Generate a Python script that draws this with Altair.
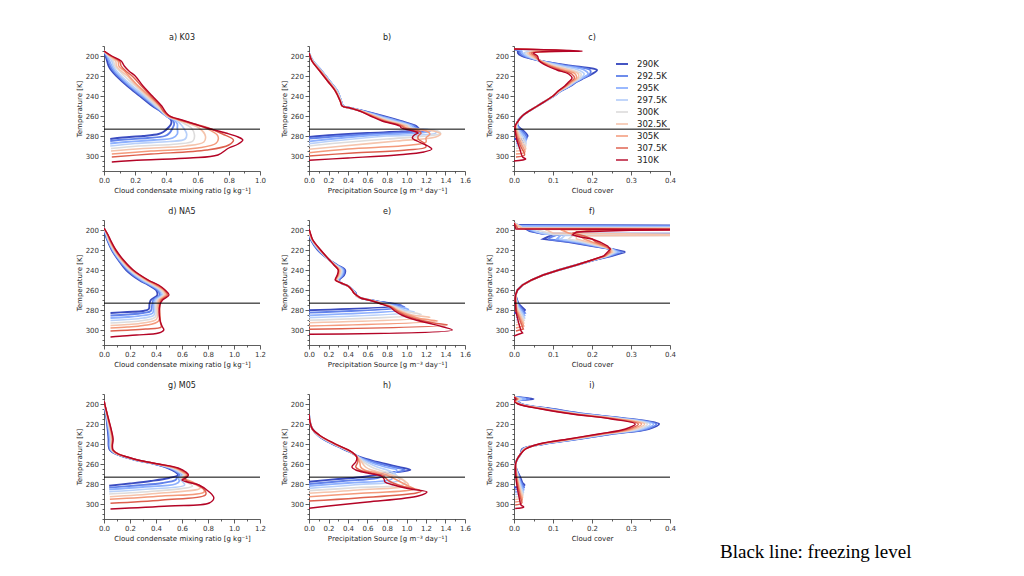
import altair as alt
import pandas as pd

SERIES = ["290K", "292.5K", "295K", "297.5K", "300K", "302.5K", "305K", "307.5K", "310K"]
COLORS = ["#3b4cc0", "#6282ea", "#8db0fe", "#b8d0f9", "#dddcdc", "#f5c4ac", "#f49a7b", "#de604d", "#b40426"]
WIDTHS = [1.9, 1.4, 1.4, 1.4, 1.4, 1.4, 1.4, 1.4, 1.9]
FREEZE = 273.15
T_DOMAIN = [190, 315]
Y_TICKS = list(range(190, 316, 5))
NOTE = "Black line: freezing level"

TITLES = ["a) K03", "b)", "c)", "d) NA5", "e)", "f)", "g) M05", "h)", "i)"]
XTITLE_Q = "Cloud condensate mixing ratio [g kg\u207b\u00b9]"
XTITLE_P = "Precipitation Source [g m\u207b\u00b3 day\u207b\u00b9]"
XTITLE_C = "Cloud cover"

# ---------------- a) K03 : condensate ----------------
A_T = [195, 200, 205, 210, 215, 220, 230, 240, 250, 255, 260]
A_X = [
    [0.0, 0.01, 0.02, 0.03, 0.05, 0.08, 0.15, 0.23, 0.31, 0.36, 0.40],
    [0.0, 0.015, 0.03, 0.04, 0.06, 0.09, 0.16, 0.24, 0.32, 0.36, 0.40],
    [0.0, 0.02, 0.035, 0.05, 0.07, 0.10, 0.17, 0.25, 0.33, 0.37, 0.40],
    [0.0, 0.025, 0.05, 0.06, 0.08, 0.11, 0.18, 0.26, 0.33, 0.37, 0.40],
    [0.0, 0.03, 0.06, 0.07, 0.10, 0.13, 0.20, 0.27, 0.34, 0.37, 0.41],
    [0.0, 0.035, 0.075, 0.08, 0.11, 0.15, 0.21, 0.28, 0.35, 0.38, 0.41],
    [0.0, 0.04, 0.09, 0.095, 0.13, 0.16, 0.22, 0.29, 0.36, 0.38, 0.41],
    [0.0, 0.045, 0.10, 0.11, 0.14, 0.18, 0.24, 0.30, 0.36, 0.38, 0.42],
    [0.0, 0.05, 0.11, 0.13, 0.16, 0.20, 0.25, 0.31, 0.37, 0.39, 0.42],
]
A_LOW = [
    [(264, 0.43), (268, 0.43), (272, 0.41), (276, 0.38), (278, 0.35), (280, 0.25), (281.5, 0.12), (283, 0.04)],
    [(264, 0.44), (268, 0.45), (272, 0.44), (277, 0.42), (280, 0.39), (282, 0.28), (283.5, 0.13), (285, 0.04)],
    [(264, 0.45), (268, 0.47), (272, 0.47), (278, 0.47), (282, 0.44), (284, 0.32), (286, 0.14), (287.5, 0.04)],
    [(264, 0.46), (268, 0.49), (272, 0.51), (278, 0.53), (283, 0.52), (285.5, 0.42), (287.5, 0.2), (290, 0.04)],
    [(264, 0.47), (268, 0.52), (272, 0.56), (279, 0.58), (285, 0.57), (288, 0.47), (290, 0.22), (292.5, 0.045)],
    [(264, 0.48), (268, 0.55), (272, 0.61), (280, 0.65), (286, 0.64), (290, 0.52), (292.5, 0.25), (295, 0.045)],
    [(264, 0.48), (268, 0.57), (272, 0.65), (280, 0.73), (287, 0.72), (292, 0.6), (295, 0.3), (298, 0.05)],
    [(264, 0.49), (268, 0.58), (272, 0.67), (278, 0.76), (284, 0.83), (289, 0.80), (294, 0.66), (298, 0.3), (301, 0.05)],
    [(264, 0.50), (268, 0.58), (272, 0.66), (277, 0.78), (281, 0.86), (284, 0.89), (288, 0.86), (292, 0.80),
     (299, 0.73), (302, 0.55), (304, 0.25), (306, 0.05)],
]

# ---------------- b) K03 : precipitation source ----------------
B_T = [197, 205, 215, 225, 235, 245, 250, 252, 255, 260, 265, 270]
B_X = [
    [0, 0.04, 0.13, 0.21, 0.29, 0.33, 0.35, 0.42, 0.56, 0.76, 0.94, 1.10],
    [0, 0.04, 0.13, 0.21, 0.29, 0.33, 0.35, 0.42, 0.55, 0.74, 0.92, 1.08],
    [0, 0.04, 0.13, 0.21, 0.29, 0.33, 0.35, 0.42, 0.55, 0.72, 0.90, 1.06],
    [0, 0.04, 0.13, 0.21, 0.29, 0.33, 0.35, 0.42, 0.54, 0.70, 0.87, 1.04],
    [0, 0.035, 0.12, 0.20, 0.28, 0.33, 0.34, 0.42, 0.54, 0.68, 0.84, 1.02],
    [0, 0.035, 0.12, 0.20, 0.28, 0.32, 0.34, 0.42, 0.53, 0.67, 0.81, 1.00],
    [0, 0.03, 0.12, 0.20, 0.27, 0.32, 0.34, 0.42, 0.53, 0.66, 0.79, 0.97],
    [0, 0.03, 0.11, 0.19, 0.27, 0.32, 0.34, 0.42, 0.52, 0.64, 0.77, 0.95],
    [0, 0.03, 0.11, 0.19, 0.27, 0.32, 0.34, 0.42, 0.52, 0.63, 0.75, 0.93],
]
B_LOW = [
    [(272, 1.12), (274, 1.14), (275.5, 0.95), (277, 0.6), (279, 0.25), (281, 0.0)],
    [(272, 1.1), (274.5, 1.2), (276, 1.05), (278, 0.65), (280.5, 0.25), (282.7, 0.0)],
    [(272, 1.08), (274.5, 1.25), (276.5, 1.18), (279, 0.7), (282.5, 0.28), (285.3, 0.0)],
    [(272, 1.06), (275, 1.3), (277, 1.3), (280, 0.8), (284.5, 0.3), (287.7, 0.0)],
    [(272, 1.04), (275, 1.32), (277.5, 1.35), (279.5, 1.25), (283, 0.8), (287, 0.3), (290, 0.0)],
    [(272, 1.02), (275, 1.28), (278, 1.35), (281, 1.3), (285, 0.9), (290, 0.35), (293.3, 0.0)],
    [(272, 1.0), (275, 1.2), (278, 1.24), (282, 1.2), (286, 1.2), (289, 1.05), (293, 0.4), (296.7, 0.0)],
    [(272, 0.98), (275, 1.12), (277, 1.15), (280, 1.12), (283, 1.12), (287, 1.18), (291, 1.2), (294, 1.0),
     (297, 0.45), (300, 0.0)],
    [(272, 0.95), (275, 1.07), (277, 1.12), (279, 1.08), (282, 1.06), (286, 1.13), (290, 1.22), (293, 1.26),
     (296, 1.18), (299, 0.9), (302, 0.4), (304.3, 0.0)],
]

# ---------------- c) K03 : cloud cover ----------------
C_T = [193, 195, 197, 200, 205, 210, 214, 218, 222, 226, 230, 235, 240, 250, 260, 266]
C_X = [
    [0, 0.01, 0.01, 0.02, 0.07, 0.15, 0.213, 0.20, 0.18, 0.16, 0.145, 0.12, 0.102, 0.06, 0.021, 0.009],
    [0, 0.015, 0.015, 0.025, 0.07, 0.14, 0.195, 0.195, 0.177, 0.158, 0.143, 0.12, 0.102, 0.06, 0.021, 0.009],
    [0, 0.02, 0.02, 0.03, 0.07, 0.13, 0.18, 0.19, 0.175, 0.157, 0.142, 0.119, 0.102, 0.06, 0.021, 0.009],
    [0, 0.04, 0.025, 0.035, 0.07, 0.12, 0.165, 0.18, 0.172, 0.155, 0.14, 0.118, 0.101, 0.06, 0.021, 0.009],
    [0, 0.07, 0.03, 0.04, 0.07, 0.11, 0.15, 0.172, 0.168, 0.152, 0.138, 0.117, 0.101, 0.06, 0.021, 0.009],
    [0, 0.10, 0.035, 0.045, 0.07, 0.10, 0.14, 0.165, 0.164, 0.15, 0.136, 0.116, 0.10, 0.06, 0.021, 0.009],
    [0, 0.13, 0.04, 0.05, 0.068, 0.095, 0.128, 0.157, 0.16, 0.147, 0.134, 0.115, 0.10, 0.06, 0.021, 0.009],
    [0, 0.155, 0.045, 0.055, 0.066, 0.09, 0.118, 0.148, 0.155, 0.144, 0.132, 0.114, 0.10, 0.06, 0.021, 0.009],
    [0, 0.175, 0.05, 0.06, 0.065, 0.085, 0.11, 0.14, 0.149, 0.14, 0.13, 0.113, 0.10, 0.06, 0.021, 0.009],
]
C_LOW = [
    [(270, 0.01), (274, 0.022), (277, 0.03), (280, 0.035), (282, 0.03), (283, 0.0)],
    [(270, 0.009), (275, 0.02), (279, 0.03), (283, 0.032), (285, 0.005)],
    [(270, 0.008), (276, 0.018), (281, 0.028), (285, 0.03), (287.5, 0.005)],
    [(270, 0.007), (277, 0.016), (283, 0.027), (288, 0.03), (290, 0.005)],
    [(270, 0.006), (278, 0.014), (285, 0.025), (290, 0.03), (292.5, 0.005)],
    [(270, 0.005), (279, 0.012), (287, 0.022), (293, 0.03), (295, 0.005)],
    [(270, 0.004), (280, 0.01), (289, 0.02), (296, 0.028), (298, 0.005)],
    [(270, 0.003), (281, 0.008), (291, 0.018), (299, 0.027), (301, 0.005)],
    [(270, 0.003), (282, 0.006), (293, 0.015), (301, 0.022), (303, 0.03), (305, 0.0)],
]

# ---------------- d) NA5 : condensate ----------------
D_T = [198, 205, 210, 220, 230, 240, 250, 255, 260, 265, 270]
D_X = [
    [0, 0.012, 0.025, 0.06, 0.11, 0.17, 0.27, 0.34, 0.40, 0.41, 0.36],
    [0, 0.015, 0.028, 0.064, 0.115, 0.18, 0.28, 0.35, 0.41, 0.43, 0.38],
    [0, 0.018, 0.031, 0.068, 0.12, 0.19, 0.29, 0.36, 0.42, 0.44, 0.39],
    [0, 0.02, 0.034, 0.072, 0.125, 0.195, 0.30, 0.37, 0.43, 0.45, 0.40],
    [0, 0.023, 0.037, 0.076, 0.13, 0.20, 0.31, 0.38, 0.44, 0.46, 0.41],
    [0, 0.026, 0.04, 0.08, 0.135, 0.21, 0.32, 0.39, 0.45, 0.47, 0.42],
    [0, 0.028, 0.043, 0.084, 0.14, 0.215, 0.33, 0.40, 0.46, 0.48, 0.43],
    [0, 0.03, 0.046, 0.088, 0.145, 0.22, 0.335, 0.41, 0.465, 0.49, 0.44],
    [0, 0.032, 0.05, 0.092, 0.15, 0.225, 0.34, 0.42, 0.47, 0.50, 0.45],
]
D_LOW = [
    [(274, 0.35), (279, 0.345), (281, 0.3), (282, 0.18), (283, 0.05)],
    [(275, 0.37), (281, 0.36), (283, 0.3), (284.5, 0.18), (285.5, 0.05)],
    [(275, 0.38), (283, 0.375), (285.5, 0.3), (287, 0.18), (288, 0.05)],
    [(275, 0.39), (285, 0.385), (288, 0.3), (289.5, 0.18), (290.5, 0.05)],
    [(275, 0.40), (287, 0.395), (290.5, 0.3), (292, 0.18), (293, 0.05)],
    [(275, 0.41), (289, 0.405), (293, 0.3), (294.5, 0.18), (295.5, 0.05)],
    [(275, 0.42), (291, 0.42), (295.5, 0.3), (297, 0.18), (298, 0.05)],
    [(275, 0.43), (293, 0.435), (297, 0.44), (299, 0.32), (300.2, 0.18), (301, 0.05)],
    [(275, 0.43), (290, 0.43), (297, 0.45), (300, 0.46), (303, 0.42), (305, 0.25), (306.2, 0.12), (307, 0.05)],
]

# ---------------- e) NA5 : precipitation source ----------------
E_T = [199, 205, 210, 220, 230, 235, 240, 245, 250, 253, 256, 260, 263, 266]
E_X = [
    [0, 0.0, 0.02, 0.09, 0.21, 0.29, 0.37, 0.36, 0.31, 0.33, 0.40, 0.45, 0.48, 0.49],
    [0, 0.005, 0.025, 0.095, 0.21, 0.285, 0.36, 0.35, 0.30, 0.33, 0.40, 0.45, 0.475, 0.49],
    [0, 0.008, 0.028, 0.10, 0.21, 0.28, 0.35, 0.34, 0.30, 0.33, 0.40, 0.45, 0.47, 0.49],
    [0, 0.01, 0.03, 0.105, 0.21, 0.275, 0.34, 0.33, 0.29, 0.33, 0.40, 0.45, 0.47, 0.49],
    [0, 0.012, 0.032, 0.11, 0.21, 0.27, 0.33, 0.32, 0.29, 0.33, 0.40, 0.445, 0.465, 0.49],
    [0, 0.014, 0.034, 0.112, 0.21, 0.265, 0.32, 0.31, 0.28, 0.33, 0.40, 0.44, 0.46, 0.49],
    [0, 0.016, 0.036, 0.115, 0.21, 0.26, 0.31, 0.30, 0.28, 0.33, 0.40, 0.44, 0.46, 0.495],
    [0, 0.018, 0.038, 0.118, 0.21, 0.26, 0.30, 0.295, 0.27, 0.33, 0.40, 0.44, 0.46, 0.50],
    [0, 0.02, 0.04, 0.12, 0.21, 0.255, 0.30, 0.29, 0.27, 0.33, 0.40, 0.44, 0.46, 0.50],
]
E_LOW = [
    [(268, 0.53), (270, 0.62), (272, 0.75), (274, 0.88), (275.5, 0.95), (280.3, 0.0)],
    [(268, 0.53), (270, 0.62), (272, 0.73), (274, 0.85), (277, 0.98), (282.7, 0.0)],
    [(268, 0.53), (270, 0.62), (272, 0.72), (274, 0.82), (277, 0.92), (279.5, 1.02), (285.3, 0.0)],
    [(268, 0.53), (270, 0.62), (272, 0.71), (274, 0.8), (277, 0.9), (280, 0.98), (282, 1.08), (287.7, 0.0)],
    [(268, 0.53), (270, 0.62), (272, 0.7), (274, 0.78), (277, 0.88), (281, 0.97), (284.5, 1.15), (290.3, 0.0)],
    [(268, 0.53), (270, 0.62), (272, 0.7), (274, 0.77), (277, 0.86), (281, 0.94), (285, 1.06), (287.5, 1.24),
     (292.7, 0.0)],
    [(268, 0.53), (270, 0.62), (272, 0.69), (274, 0.76), (277, 0.85), (281, 0.92), (285, 1.02), (289, 1.16),
     (291, 1.32), (296, 0.0)],
    [(268, 0.53), (270, 0.62), (272, 0.69), (274, 0.75), (277, 0.84), (281, 0.9), (285, 0.98), (289, 1.1),
     (293, 1.28), (295, 1.42), (299.3, 0.0)],
    [(268, 0.53), (270, 0.61), (272, 0.68), (274, 0.74), (277, 0.83), (281, 0.88), (285, 0.95), (289, 1.06),
     (293, 1.22), (297, 1.38), (300, 1.47), (304.3, 0.0)],
]

# ---------------- f) NA5 : cloud cover ----------------
F_TOP = [
    [(193, 0), (195, 0.01), (195.6, 0.6), (196.4, 0.02), (201, 0.04), (203.5, 0.07), (204, 0.6), (204.6, 0.1),
     (207, 0.085), (209, 0.075)],
    [(193, 0), (195.5, 0.01), (196.2, 0.6), (197, 0.02), (201, 0.045), (203.8, 0.075), (204.3, 0.6), (205, 0.11),
     (208, 0.09), (209.5, 0.09)],
    [(193, 0), (196, 0.015), (196.8, 0.6), (197.5, 0.03), (201, 0.05), (204, 0.08), (204.5, 0.6), (205.2, 0.12),
     (209, 0.11)],
    [(193, 0), (197, 0.02), (197.6, 0.6), (198.3, 0.04), (202, 0.06), (204.3, 0.09), (204.8, 0.6), (205.5, 0.13),
     (209, 0.12)],
    [(193, 0), (197.5, 0.02), (198.2, 0.6), (199, 0.05), (202, 0.08), (204.5, 0.1), (205, 0.6), (205.7, 0.15),
     (209, 0.14)],
    [(193, 0), (198, 0.02), (198.6, 0.6), (199.5, 0.08), (203, 0.1), (205, 0.6), (205.8, 0.16), (209, 0.16)],
    [(193, 0), (198.3, 0.01), (199, 0.6), (199.8, 0.12), (203, 0.14), (206, 0.17), (209, 0.18)],
    [(193, 0), (198.6, 0.01), (199.3, 0.6), (200, 0.2), (203, 0.15), (206, 0.18), (209, 0.2)],
    [(193, 0), (199, 0.005), (199.6, 0.6), (200.3, 0.3), (202, 0.16), (205, 0.15), (207, 0.17), (209, 0.2)],
]
F_T = [212, 216, 219, 222, 226, 230, 235, 240, 245, 250, 255, 260, 265, 270]
F_X = [
    [0.14, 0.20, 0.25, 0.285, 0.25, 0.205, 0.16, 0.115, 0.075, 0.045, 0.022, 0.009, 0.004, 0.008],
    [0.15, 0.205, 0.25, 0.275, 0.245, 0.205, 0.16, 0.115, 0.075, 0.045, 0.022, 0.009, 0.004, 0.007],
    [0.16, 0.21, 0.25, 0.268, 0.242, 0.205, 0.16, 0.115, 0.075, 0.045, 0.022, 0.009, 0.004, 0.006],
    [0.17, 0.215, 0.25, 0.262, 0.24, 0.204, 0.16, 0.115, 0.075, 0.045, 0.022, 0.009, 0.004, 0.006],
    [0.18, 0.22, 0.25, 0.257, 0.238, 0.203, 0.16, 0.115, 0.075, 0.045, 0.022, 0.009, 0.004, 0.005],
    [0.19, 0.225, 0.248, 0.252, 0.236, 0.202, 0.16, 0.115, 0.075, 0.045, 0.022, 0.009, 0.004, 0.005],
    [0.20, 0.23, 0.247, 0.248, 0.234, 0.201, 0.16, 0.115, 0.075, 0.045, 0.022, 0.009, 0.004, 0.004],
    [0.21, 0.235, 0.246, 0.245, 0.232, 0.20, 0.16, 0.115, 0.075, 0.045, 0.022, 0.009, 0.004, 0.004],
    [0.22, 0.24, 0.247, 0.24, 0.23, 0.20, 0.16, 0.115, 0.075, 0.045, 0.022, 0.009, 0.004, 0.003],
]
F_LOW = [
    [(274, 0.012), (277, 0.02), (280, 0.028), (282, 0.025), (283, 0.0)],
    [(275, 0.012), (279, 0.02), (283, 0.028), (285, 0.005)],
    [(276, 0.011), (281, 0.02), (285.5, 0.027), (287.5, 0.005)],
    [(277, 0.01), (283, 0.02), (288, 0.027), (290, 0.005)],
    [(278, 0.009), (285, 0.019), (290.5, 0.026), (292.5, 0.005)],
    [(279, 0.008), (287, 0.018), (293, 0.025), (295, 0.005)],
    [(280, 0.007), (289, 0.017), (296, 0.025), (298, 0.005)],
    [(281, 0.006), (291, 0.016), (299, 0.024), (301, 0.005)],
    [(282, 0.005), (293, 0.012), (301, 0.018), (303, 0.022), (304.5, 0.01), (306, 0.0)],
]

# ---------------- g) M05 : condensate ----------------
G_T = [197, 205, 215, 225, 235, 242, 246, 250, 253, 256, 260, 264, 268]
G_X = [
    [0, 0.008, 0.02, 0.028, 0.035, 0.036, 0.045, 0.09, 0.16, 0.24, 0.39, 0.49, 0.55],
    [0, 0.009, 0.022, 0.032, 0.04, 0.04, 0.05, 0.095, 0.165, 0.245, 0.395, 0.50, 0.56],
    [0, 0.01, 0.024, 0.036, 0.045, 0.045, 0.055, 0.10, 0.17, 0.25, 0.40, 0.51, 0.57],
    [0, 0.011, 0.026, 0.04, 0.05, 0.05, 0.058, 0.10, 0.17, 0.25, 0.40, 0.52, 0.58],
    [0, 0.012, 0.028, 0.044, 0.055, 0.054, 0.06, 0.10, 0.17, 0.25, 0.405, 0.53, 0.59],
    [0, 0.013, 0.03, 0.047, 0.06, 0.057, 0.063, 0.105, 0.175, 0.255, 0.41, 0.54, 0.60],
    [0, 0.014, 0.032, 0.05, 0.064, 0.06, 0.066, 0.105, 0.175, 0.255, 0.41, 0.55, 0.61],
    [0, 0.015, 0.034, 0.053, 0.067, 0.063, 0.068, 0.11, 0.18, 0.26, 0.415, 0.56, 0.62],
    [0, 0.015, 0.035, 0.055, 0.07, 0.065, 0.07, 0.11, 0.18, 0.26, 0.42, 0.57, 0.63],
]
G_LOW = [
    [(271, 0.57), (274, 0.50), (277, 0.36), (279.5, 0.2), (281.7, 0.04)],
    [(271, 0.58), (274, 0.56), (276, 0.55), (279, 0.45), (281.5, 0.25), (283.7, 0.04)],
    [(271, 0.6), (274, 0.57), (277, 0.58), (280, 0.55), (283, 0.3), (285.3, 0.04)],
    [(271, 0.61), (274, 0.58), (277, 0.6), (281, 0.62), (285, 0.35), (287.7, 0.04)],
    [(271, 0.62), (274, 0.59), (277, 0.62), (282, 0.68), (287, 0.4), (290, 0.04)],
    [(271, 0.63), (274, 0.6), (278, 0.66), (284, 0.74), (289.5, 0.4), (292.7, 0.045)],
    [(271, 0.64), (274, 0.61), (278, 0.68), (284, 0.76), (288, 0.77), (292, 0.45), (295.3, 0.045)],
    [(271, 0.645), (274, 0.62), (277, 0.64), (281, 0.72), (287, 0.78), (291, 0.78), (296, 0.45), (299.3, 0.05)],
    [(271, 0.65), (274, 0.63), (276, 0.6), (278, 0.64), (281, 0.73), (288, 0.81), (294, 0.845), (299, 0.81),
     (302, 0.5), (305, 0.05)],
]

# ---------------- h) M05 : precipitation source ----------------
H_T = [210, 218, 225, 232, 240, 248, 253, 258, 263, 266, 269]
H_X = [
    [0, 0.01, 0.035, 0.10, 0.24, 0.42, 0.52, 0.70, 0.92, 1.04, 0.80],
    [0, 0.01, 0.035, 0.103, 0.245, 0.425, 0.51, 0.66, 0.86, 0.98, 0.85],
    [0, 0.01, 0.035, 0.105, 0.25, 0.43, 0.51, 0.62, 0.78, 0.90, 0.88],
    [0, 0.01, 0.035, 0.108, 0.255, 0.43, 0.50, 0.59, 0.70, 0.80, 0.87],
    [0, 0.01, 0.035, 0.11, 0.26, 0.43, 0.50, 0.56, 0.64, 0.72, 0.82],
    [0, 0.01, 0.035, 0.112, 0.262, 0.43, 0.50, 0.54, 0.58, 0.64, 0.76],
    [0, 0.01, 0.035, 0.115, 0.265, 0.435, 0.49, 0.52, 0.53, 0.57, 0.70],
    [0, 0.01, 0.035, 0.118, 0.268, 0.435, 0.49, 0.50, 0.48, 0.52, 0.64],
    [0, 0.01, 0.035, 0.12, 0.27, 0.44, 0.49, 0.48, 0.44, 0.48, 0.60],
]
H_LOW = [
    [(271, 0.68), (273, 0.55), (275, 0.3), (277.7, 0.0)],
    [(271, 0.78), (274, 0.7), (277, 0.35), (280, 0.0)],
    [(272, 0.85), (275, 0.85), (279, 0.4), (282, 0.0)],
    [(272, 0.9), (276, 0.93), (281, 0.45), (284.3, 0.0)],
    [(272, 0.9), (277, 0.98), (280, 0.98), (283.5, 0.5), (286.7, 0.0)],
    [(272, 0.87), (277, 0.98), (281, 1.02), (286, 0.5), (289.3, 0.0)],
    [(272, 0.82), (277, 0.92), (282, 1.02), (285, 1.08), (289.5, 0.5), (292.7, 0.0)],
    [(272, 0.76), (277, 0.82), (282, 0.95), (287, 1.15), (289, 1.1), (294, 0.5), (297, 0.0)],
    [(272, 0.74), (275, 0.77), (278, 0.78), (281, 0.87), (285, 1.04), (288, 1.21), (292, 1.12), (298, 0.6),
     (302, 0.2), (304.3, 0.0)],
]

# ---------------- i) M05 : cloud cover ----------------
I_T = [193, 195, 197, 200, 205, 210, 215, 220, 225, 230, 235, 240, 245, 250, 255, 260, 265]
I_X = [
    [0, 0.05, 0.01, 0.02, 0.1, 0.183, 0.30, 0.372, 0.345, 0.25, 0.166, 0.077, 0.021, 0.017, 0.0085, 0.004, 0.006],
    [0, 0.04, 0.01, 0.018, 0.095, 0.178, 0.295, 0.365, 0.34, 0.245, 0.163, 0.075, 0.023, 0.017, 0.0085, 0.004, 0.006],
    [0, 0.03, 0.008, 0.017, 0.09, 0.173, 0.29, 0.358, 0.333, 0.241, 0.16, 0.074, 0.024, 0.017, 0.0085, 0.004, 0.006],
    [0, 0.02, 0.006, 0.016, 0.087, 0.168, 0.283, 0.35, 0.326, 0.237, 0.157, 0.072, 0.025, 0.017, 0.0085, 0.004, 0.005],
    [0, 0.015, 0.005, 0.015, 0.084, 0.165, 0.276, 0.342, 0.318, 0.233, 0.154, 0.071, 0.026, 0.017, 0.0085, 0.004, 0.005],
    [0, 0.012, 0.004, 0.014, 0.08, 0.161, 0.27, 0.335, 0.31, 0.23, 0.151, 0.069, 0.027, 0.017, 0.0085, 0.004, 0.005],
    [0, 0.01, 0.003, 0.013, 0.077, 0.157, 0.264, 0.327, 0.302, 0.226, 0.148, 0.067, 0.028, 0.017, 0.0085, 0.004, 0.005],
    [0, 0.008, 0.002, 0.012, 0.073, 0.153, 0.257, 0.319, 0.294, 0.222, 0.144, 0.066, 0.029, 0.017, 0.0085, 0.004, 0.004],
    [0, 0.005, 0.0, 0.01, 0.07, 0.149, 0.25, 0.311, 0.286, 0.217, 0.14, 0.064, 0.03, 0.017, 0.0085, 0.004, 0.004],
]
I_LOW = [
    [(270, 0.012), (275, 0.018), (279, 0.022), (281, 0.027), (282.5, 0.015), (283.5, 0.0)],
    [(270, 0.011), (276, 0.016), (281, 0.022), (283.5, 0.026), (285.5, 0.003)],
    [(270, 0.01), (277, 0.015), (283, 0.021), (286, 0.025), (288, 0.003)],
    [(270, 0.009), (278, 0.014), (285, 0.02), (288.5, 0.024), (290.5, 0.003)],
    [(270, 0.008), (279, 0.013), (287, 0.019), (291, 0.023), (293, 0.003)],
    [(270, 0.007), (280, 0.012), (289, 0.018), (293.5, 0.022), (295.5, 0.003)],
    [(270, 0.006), (281, 0.011), (291, 0.017), (296, 0.021), (298, 0.003)],
    [(270, 0.005), (282, 0.01), (293, 0.016), (299, 0.02), (301, 0.003)],
    [(270, 0.004), (283, 0.008), (295, 0.014), (301, 0.018), (303, 0.025), (304.5, 0.003)],
]

FONT = "DejaVu Sans"
PW, PH = 156, 125


def ticks(xmax, step):
    n = int(round(xmax / step))
    return [round(k * step, 3) for k in range(n + 1)]


def make_panel(title, T, X, low, top, xmax, minor, major, xtitle, legend=False, note=False,
               interp="catmull-rom"):
    rows = []
    for i, s in enumerate(SERIES):
        assert len(X[i]) == len(T), (title, i)
        pts = (top[i] if top else []) + list(zip(T, X[i])) + low[i]
        for k, (t, x) in enumerate(pts):
            rows.append({"series": s, "T": t, "x": x, "k": k})
    df = pd.DataFrame(rows)

    m = int(round(major * 1000))
    xtest = f"round(datum.value * 1000) % {m} == 0"
    ytest = "round(datum.value) % 20 == 0"
    xaxis = alt.Axis(title=xtitle, values=ticks(xmax, minor), format=".1f",
                     labelExpr=f"({xtest}) ? datum.label : ''",
                     tickSize={"condition": {"test": xtest, "value": 4}, "value": 2},
                     labelOverlap=False, labelFlush=False, grid=False)
    yaxis = alt.Axis(title="Temperature [K]", values=Y_TICKS,
                     labelExpr=f"({ytest}) ? format(datum.value, 'd') : ''",
                     tickSize={"condition": {"test": ytest, "value": 4}, "value": 2},
                     labelOverlap=False, labelFlush=False, grid=False)
    if legend:
        leg = alt.Legend(title=None, orient="none", legendX=101, legendY=11,
                         symbolType="stroke", symbolSize=144, symbolStrokeWidth=2,
                         labelFont=FONT, labelFontSize=8.5, labelColor="#222",
                         rowPadding=0, labelOffset=8, padding=0)
    else:
        leg = None

    xs = alt.Scale(domain=[0, xmax], nice=False, zero=False)
    ys = alt.Scale(domain=T_DOMAIN, reverse=True, nice=False, zero=False)
    lines = alt.Chart(df).mark_line(clip=True, interpolate=interp).encode(
        x=alt.X("x:Q", scale=xs, axis=xaxis),
        y=alt.Y("T:Q", scale=ys, axis=yaxis),
        color=alt.Color("series:N", scale=alt.Scale(domain=SERIES, range=COLORS), legend=leg),
        strokeWidth=alt.StrokeWidth("series:N", scale=alt.Scale(domain=SERIES, range=WIDTHS), legend=None),
        order=alt.Order("k:Q"),
    )
    rule = alt.Chart(pd.DataFrame({"T": [FREEZE]})).mark_rule(color="black", strokeWidth=1).encode(
        y=alt.Y("T:Q", scale=ys, axis=yaxis)
    )
    layers = [lines, rule]
    if note:
        txt = alt.Chart(pd.DataFrame({"t": [NOTE]})).mark_text(
            align="left", baseline="alphabetic", font="Liberation Serif", fontSize=19, color="black"
        ).encode(text="t:N", x=alt.value(206), y=alt.value(164))
        layers.append(txt)
    return alt.layer(*layers).properties(
        width=PW, height=PH,
        title=alt.TitleParams(title, font=FONT, fontSize=8, fontWeight="normal", color="#222",
                              anchor="middle", frame="group", offset=0),
    )


panels = [
    make_panel(TITLES[0], A_T, A_X, A_LOW, None, 1.0, 0.1, 0.2, XTITLE_Q),
    make_panel(TITLES[1], B_T, B_X, B_LOW, None, 1.6, 0.1, 0.2, XTITLE_P),
    make_panel(TITLES[2], C_T, C_X, C_LOW, None, 0.4, 0.05, 0.1, XTITLE_C, legend=True),
    make_panel(TITLES[3], D_T, D_X, D_LOW, None, 1.2, 0.1, 0.2, XTITLE_Q),
    make_panel(TITLES[4], E_T, E_X, E_LOW, None, 1.6, 0.1, 0.2, XTITLE_P),
    make_panel(TITLES[5], F_T, F_X, F_LOW, F_TOP, 0.4, 0.05, 0.1, XTITLE_C, interp="linear"),
    make_panel(TITLES[6], G_T, G_X, G_LOW, None, 1.2, 0.1, 0.2, XTITLE_Q),
    make_panel(TITLES[7], H_T, H_X, H_LOW, None, 1.6, 0.1, 0.2, XTITLE_P),
    make_panel(TITLES[8], I_T, I_X, I_LOW, None, 0.4, 0.05, 0.1, XTITLE_C, note=True),
]

chart = (
    alt.concat(*panels, columns=3, spacing=49, bounds="flush")
    .resolve_scale(color="independent", strokeWidth="independent")
    .properties(padding={"left": 67, "top": 26, "right": 5, "bottom": 5}, background="white")
    .configure_view(stroke=None)
    .configure_axis(labelFont=FONT, labelFontSize=7, labelColor="#333", titleFont=FONT, titleFontSize=7,
                    titleFontWeight="normal", titleColor="#222", domainColor="#333", tickColor="#333",
                    domainWidth=0.8, tickWidth=0.8, labelPadding=1.5, titlePadding=3)
)

chart.save("out.html", embed_options={"renderer": "svg", "actions": False})
